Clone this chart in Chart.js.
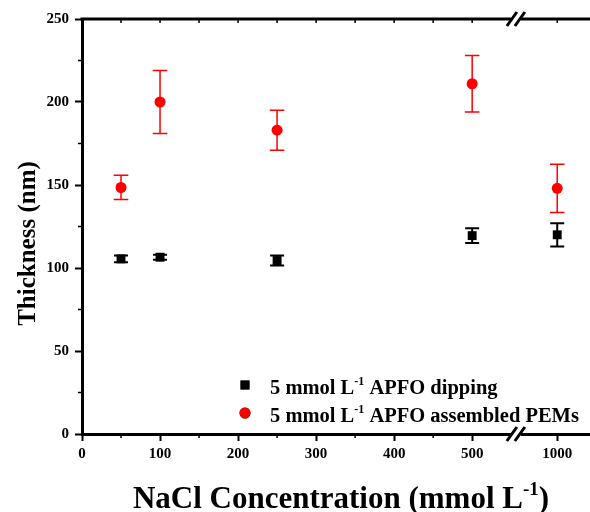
<!DOCTYPE html>
<html>
<head>
<meta charset="utf-8">
<script src="https://cdn.jsdelivr.net/npm/chart.js@4.4.1/dist/chart.umd.min.js"></script>
<style>
  html, body { margin: 0; padding: 0; background: #fff; }
  #wrap { width: 590px; height: 512px; }
</style>
</head>
<body>
<div id="wrap"><canvas id="thicknessChart" width="590" height="512"></canvas></div>
<script>
// Data
const concentrations = [50, 100, 250, 500, 1000];
const dippingThickness = [105.5, 106.5, 104.5, 119.5, 120];
const dippingError = [2, 1.5, 3, 4.5, 7];
const pemThickness = [148.5, 200, 183, 211, 148];
const pemError = [7.3, 19, 12, 17, 14.5];

const xTickValues = [0, 100, 200, 300, 400, 500, 1000];
const yTickValues = [0, 50, 100, 150, 200, 250];

// Broken x axis: everything above 500 is shifted left by a fixed amount
const BREAK_FROM = 500;
const GAP_SHIFT = 391;
const BREAK_MARK = 556;
const X_END = 651;

function axisPos(c) {
  return c > BREAK_FROM ? c - GAP_SHIFT : c;
}
function realValue(v) {
  return v > BREAK_FROM ? v + GAP_SHIFT : v;
}

const FONT = "'Liberation Serif', 'Times New Roman', serif";

// draw text with "-1" style superscripts
function drawRich(ctx, parts, x, y, size, align) {
  let total = 0;
  parts.forEach(p => {
    ctx.font = 'bold ' + (p.sup ? Math.round(size * 0.6) : size) + 'px ' + FONT;
    p.w = ctx.measureText(p.t).width;
    total += p.w;
  });
  let cx = align === 'center' ? x - total / 2 : x;
  ctx.textAlign = 'left';
  ctx.textBaseline = 'alphabetic';
  parts.forEach(p => {
    ctx.font = 'bold ' + (p.sup ? Math.round(size * 0.6) : size) + 'px ' + FONT;
    ctx.fillText(p.t, cx, p.sup ? y - size * 0.42 : y);
    cx += p.w;
  });
}

const errorBarPlugin = {
  id: 'errorBars',
  beforeDatasetsDraw(chart) {
    const ctx = chart.ctx;
    const yScale = chart.scales.y;
    chart.data.datasets.forEach((ds, di) => {
      const meta = chart.getDatasetMeta(di);
      ctx.save();
      ctx.strokeStyle = ds.borderColor;
      ctx.lineWidth = ds.errorWidth;
      meta.data.forEach((pt, i) => {
        const v = ds.data[i].y;
        const e = ds.errors[i];
        const top = yScale.getPixelForValue(v + e);
        const bot = yScale.getPixelForValue(v - e);
        const cap = ds.capHalf;
        ctx.beginPath();
        ctx.moveTo(pt.x, top); ctx.lineTo(pt.x, bot);
        ctx.moveTo(pt.x - cap, top); ctx.lineTo(pt.x + cap, top);
        ctx.moveTo(pt.x - cap, bot); ctx.lineTo(pt.x + cap, bot);
        ctx.stroke();
      });
      ctx.restore();
    });
  }
};

const framePlugin = {
  id: 'frame',
  afterDraw(chart) {
    const ctx = chart.ctx;
    const area = chart.chartArea;
    const xs = chart.scales.x;
    const ys = chart.scales.y;
    ctx.save();
    ctx.strokeStyle = '#000';
    ctx.fillStyle = '#000';

    // top axis with small inward ticks
    ctx.lineWidth = 3;
    ctx.beginPath();
    ctx.moveTo(area.left - 1.5, area.top);
    ctx.lineTo(area.right, area.top);
    ctx.stroke();
    ctx.lineWidth = 1.5;
    ctx.beginPath();
    for (let v = 50; v <= BREAK_FROM; v += 50) {
      const px = xs.getPixelForValue(v);
      ctx.moveTo(px, area.top); ctx.lineTo(px, area.top + 4);
    }
    const px1000 = xs.getPixelForValue(axisPos(1000));
    ctx.moveTo(px1000, area.top); ctx.lineTo(px1000, area.top + 4);
    // minor ticks, outward
    for (let v = 50; v < BREAK_FROM; v += 100) {
      const px = xs.getPixelForValue(v);
      ctx.moveTo(px, area.bottom); ctx.lineTo(px, area.bottom + 4);
    }
    for (let v = 25; v < 250; v += 50) {
      const py = ys.getPixelForValue(v);
      ctx.moveTo(area.left, py); ctx.lineTo(area.left - 4, py);
    }
    ctx.stroke();

    // axis break marks
    const bx = xs.getPixelForValue(BREAK_MARK);
    [area.top, area.bottom].forEach(ay => {
      ctx.fillStyle = '#fff';
      ctx.fillRect(bx - 5, ay - 2, 10, 4);
      ctx.strokeStyle = '#000';
      ctx.lineWidth = 3;
      ctx.beginPath();
      ctx.moveTo(bx - 9, ay + 7); ctx.lineTo(bx + 1, ay - 7);
      ctx.moveTo(bx - 1, ay + 7); ctx.lineTo(bx + 9, ay - 7);
      ctx.stroke();
    });

    ctx.fillStyle = '#000';
    // axis titles
    drawRich(ctx, [{ t: 'NaCl Concentration (mmol L' }, { t: '-1', sup: true }, { t: ')' }],
      341, 508, 31, 'center');
    ctx.save();
    ctx.translate(35, (area.top + area.bottom) / 2 + 17);
    ctx.rotate(-Math.PI / 2);
    drawRich(ctx, [{ t: 'Thickness (nm)' }], 0, 0, 25, 'center');
    ctx.restore();

    // legend
    const rows = [
      { ds: 0, y: 394, parts: [{ t: '5 mmol L' }, { t: '-1', sup: true }, { t: ' APFO dipping' }] },
      { ds: 1, y: 422, parts: [{ t: '5 mmol L' }, { t: '-1', sup: true }, { t: ' APFO assembled PEMs' }] }
    ];
    rows.forEach(r => {
      const ds = chart.data.datasets[r.ds];
      Chart.helpers.drawPoint(ctx, {
        pointStyle: ds.pointStyle, radius: ds.pointRadius, rotation: 0, borderWidth: 0
      }, 245, r.y - 9);
      ctx.fillStyle = ds.backgroundColor;
      ctx.fill();
      ctx.fillStyle = '#000';
      drawRich(ctx, r.parts, 270, r.y, 20.5, 'left');
    });
    ctx.restore();
  }
};

const ctx = document.getElementById('thicknessChart').getContext('2d');
const chart = new Chart(ctx, {
  type: 'scatter',
  data: {
    datasets: [
      {
        label: '5 mmol L-1 APFO dipping',
        data: concentrations.map((c, i) => ({ x: axisPos(c), y: dippingThickness[i] })),
        errors: dippingError,
        pointStyle: 'rect',
        pointRadius: 6.3,
        backgroundColor: '#000',
        borderColor: '#000',
        borderWidth: 0,
        errorWidth: 2,
        capHalf: 7
      },
      {
        label: '5 mmol L-1 APFO assembled PEMs',
        data: concentrations.map((c, i) => ({ x: axisPos(c), y: pemThickness[i] })),
        errors: pemError,
        pointStyle: 'circle',
        pointRadius: 5.5,
        backgroundColor: '#ff0000',
        borderColor: '#ff0000',
        borderWidth: 0,
        errorWidth: 1.5,
        capHalf: 7.3
      }
    ]
  },
  options: {
    responsive: false,
    animation: false,
    devicePixelRatio: 1,
    layout: { autoPadding: false, padding: { top: 19, left: 0, right: 0, bottom: 0 } },
    plugins: {
      legend: { display: false },
      tooltip: { enabled: false }
    },
    scales: {
      x: {
        type: 'linear',
        min: 0,
        max: X_END,
        afterBuildTicks: scale => {
          scale.ticks = xTickValues.map(v => ({ value: axisPos(v) }));
        },
        afterFit: scale => {
          scale.height = 78;
          scale.paddingRight = 0;
          scale.paddingLeft = 0;
        },
        ticks: {
          color: '#000',
          font: { family: FONT, size: 15, weight: 'bold' },
          padding: 4,
          maxRotation: 0,
          callback: v => String(realValue(v))
        },
        grid: {
          drawOnChartArea: false,
          tickLength: 7,
          tickWidth: 2,
          tickColor: '#000'
        },
        border: { display: true, width: 3, color: '#000' }
      },
      y: {
        min: 0,
        max: 250,
        afterBuildTicks: scale => {
          scale.ticks = yTickValues.map(v => ({ value: v }));
        },
        afterFit: scale => { scale.width = 82; },
        ticks: {
          color: '#000',
          font: { family: FONT, size: 15, weight: 'bold' },
          padding: 6
        },
        grid: {
          drawOnChartArea: false,
          tickLength: 7,
          tickWidth: 2,
          tickColor: '#000'
        },
        border: { display: true, width: 3, color: '#000' }
      }
    }
  },
  plugins: [errorBarPlugin, framePlugin]
});
</script>
</body>
</html>
